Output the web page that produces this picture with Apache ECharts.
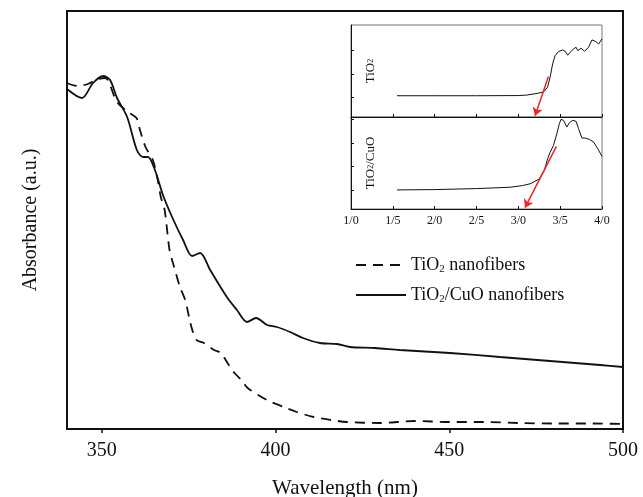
<!DOCTYPE html>
<html><head><meta charset="utf-8">
<script src="https://cdn.jsdelivr.net/npm/echarts@6/dist/echarts.min.js"></script>
<style>html,body{margin:0;padding:0;background:#fff}#c{width:643px;height:497px}</style>
</head><body><div id="c"></div>
<script>
// ---- main chart data ----
const xTicks = [350, 400, 450, 500];
const solidX = [340.0,344.3,347.5,350.4,352.4,354.4,357.3,360.1,361.9,363.3,365.3,367.6,370.5,373.4,376.0,378.3,381.2,386.0,388.9,391.8,394.4,397.6,400.4,404.2,407.9,412.8,417.7,421.4,428.6,435.8,450.2,464.6,479.0,493.4,500];
const solidY = [3.40,3.31,3.46,3.53,3.49,3.31,3.12,2.79,2.72,2.72,2.59,2.34,2.10,1.89,1.73,1.76,1.59,1.32,1.19,1.07,1.11,1.04,1.02,0.97,0.91,0.86,0.85,0.82,0.81,0.79,0.76,0.72,0.68,0.64,0.62];
const dashX = [340,343,346,349,351,354.4,358,360,361,362.6,364.7,366,367,368.1,369.5,370.5,372.5,374,375.8,377.3,379.4,382.3,384.3,386.2,388.2,390.2,392,397.5,402.4,406.1,411,416,420.6,430,440,450,460,470,480,490,500];
const dashY = [3.46,3.43,3.45,3.50,3.51,3.27,3.16,3.11,2.99,2.82,2.69,2.51,2.32,2.19,1.79,1.66,1.42,1.29,1.02,0.89,0.86,0.79,0.76,0.66,0.56,0.49,0.41,0.29,0.22,0.17,0.12,0.09,0.07,0.06,0.08,0.07,0.07,0.06,0.055,0.055,0.05];
const seriesNames = ['TiO2 nanofibers', 'TiO2/CuO nanofibers'];

// ---- inset data ----
const insetTickLabels = ['1/0','1/5','2/0','2/5','3/0','3/5','4/0'];
const insetTopX = [1.55,2.0,2.5,3.0,3.1,3.2,3.3,3.35,3.38,3.41,3.44,3.48,3.53,3.56,3.59,3.62,3.66,3.69,3.71,3.75,3.79,3.84,3.88,3.92,3.96,3.98,4.0];
const insetTopY = [64,64,64,64.5,66,70,75,90,120,160,185,197,202,198,186,195,205,210,200,207,198,210,232,228,220,225,235];
const insetTopTicks = [60,130,202];
const insetBotX = [1.55,2.0,2.5,2.9,3.05,3.15,3.25,3.31,3.35,3.38,3.42,3.46,3.49,3.51,3.54,3.58,3.61,3.65,3.69,3.72,3.76,3.8,3.85,3.9,3.95,4.0];
const insetBotY = [57,58,61,65,70,76,90,115,150,170,190,225,255,268,265,245,258,265,262,240,212,212,208,200,180,157];
const insetBotTicks = [57,127,197,267];
const arrowTop = [[3.36,122],[3.2,4]];
const arrowBot = [[3.455,187],[3.08,4]];

const zip = (a, b) => a.map((v, i) => [v, b[i]]);
const F = 'Liberation Serif';
const sub = { fontSize: 11, fontFamily: F, color: '#111', padding: [9, 0, 0, 0] };
const subS = { fontSize: 8, fontFamily: F, color: '#111', padding: [0, 0, 0, 0] };

const chart = echarts.init(document.getElementById('c'));
const arrowStyle = { color: '#e8262b', width: 1.5, type: 'solid' };
chart.setOption({
  animation: false,
  legend: {
    left: 350, top: 251, orient: 'vertical', itemWidth: 50, itemHeight: 14, itemGap: 11,
    data: seriesNames,
    itemStyle: { opacity: 0 },
    formatter: n => n.replace('TiO2', 'TiO{s|2}'),
    textStyle: { fontFamily: F, fontSize: 18, color: '#111', rich: { s: sub } }
  },
  grid: [
    { left: 67, top: 11, right: 20, bottom: 68, show: true, borderColor: '#111', borderWidth: 2, outerBoundsMode: 'none', containLabel: false },
    { left: 351, top: 25, right: 41, height: 92, show: true, borderColor: '#777', borderWidth: 1, backgroundColor: '#fff', outerBoundsMode: 'none', containLabel: false },
    { left: 351, top: 117, right: 41, height: 92, show: true, borderColor: '#777', borderWidth: 1, backgroundColor: '#fff', outerBoundsMode: 'none', containLabel: false }
  ],
  xAxis: [
    { gridIndex: 0, type: 'value', min: 340, max: 500,
      name: 'Wavelength (nm)', nameLocation: 'middle', nameGap: 49,
      nameTextStyle: { fontFamily: F, fontSize: 21, color: '#111' },
      axisLine: { show: true, lineStyle: { color: '#111', width: 2 } },
      axisTick: { show: true, customValues: xTicks, length: 4, lineStyle: { color: '#111', width: 1.5 } },
      axisLabel: { customValues: xTicks, margin: 12, fontFamily: F, fontSize: 20, color: '#111' },
      splitLine: { show: false } },
    { gridIndex: 1, type: 'value', min: 1, max: 4, interval: 0.5,
      axisLine: { show: true, lineStyle: { color: '#111', width: 1 } },
      axisTick: { show: true, length: 3, inside: true, lineStyle: { color: '#111' } },
      axisLabel: { show: false }, splitLine: { show: false } },
    { gridIndex: 2, type: 'value', min: 1, max: 4, interval: 0.5,
      axisLine: { show: true, lineStyle: { color: '#111', width: 1 } },
      axisTick: { show: true, length: 3, inside: true, lineStyle: { color: '#111' } },
      axisLabel: { margin: 6, fontFamily: F, fontSize: 12, color: '#111',
        formatter: v => insetTickLabels[Math.round((v - 1) / 0.5)] },
      splitLine: { show: false } }
  ],
  yAxis: [
    { gridIndex: 0, type: 'value', min: 0, max: 4.18,
      name: 'Absorbance (a.u.)', nameLocation: 'middle', nameGap: 26,
      nameTextStyle: { fontFamily: F, fontSize: 20, color: '#111' },
      axisLine: { show: true, lineStyle: { color: '#111', width: 2 } },
      axisTick: { show: false }, axisLabel: { show: false }, splitLine: { show: false } },
    { gridIndex: 1, type: 'value', min: 0, max: 277,
      name: 'TiO{s|2}', nameLocation: 'middle', nameGap: -26,
      nameTextStyle: { fontFamily: F, fontSize: 13, color: '#111', rich: { s: subS } },
      axisLine: { show: true, lineStyle: { color: '#111', width: 1 } },
      axisTick: { show: true, customValues: insetTopTicks, length: 3, inside: true, lineStyle: { color: '#111' } },
      axisLabel: { show: false }, splitLine: { show: false } },
    { gridIndex: 2, type: 'value', min: 0, max: 275,
      name: 'TiO{s|2}/CuO', nameLocation: 'middle', nameGap: -26,
      nameTextStyle: { fontFamily: F, fontSize: 13, color: '#111', rich: { s: subS } },
      axisLine: { show: true, lineStyle: { color: '#111', width: 1 } },
      axisTick: { show: true, customValues: insetBotTicks, length: 3, inside: true, lineStyle: { color: '#111' } },
      axisLabel: { show: false }, splitLine: { show: false } }
  ],
  series: [
    { name: seriesNames[0], type: 'line', xAxisIndex: 0, yAxisIndex: 0, data: zip(dashX, dashY),
      smooth: 0.3, symbol: 'none', lineStyle: { color: '#111', width: 1.8, type: [10, 7] }, itemStyle: { color: '#111' } },
    { name: seriesNames[1], type: 'line', xAxisIndex: 0, yAxisIndex: 0, data: zip(solidX, solidY),
      smooth: 0.3, symbol: 'none', lineStyle: { color: '#111', width: 1.8 }, itemStyle: { color: '#111' } },
    { name: 'insetTop', type: 'line', xAxisIndex: 1, yAxisIndex: 1, data: zip(insetTopX, insetTopY),
      symbol: 'none', lineStyle: { color: '#111', width: 1 },
      markLine: { silent: true, symbol: ['none', 'arrow'], symbolSize: 8, lineStyle: arrowStyle, label: { show: false },
        data: [[{ coord: arrowTop[0] }, { coord: arrowTop[1] }]] } },
    { name: 'insetBot', type: 'line', xAxisIndex: 2, yAxisIndex: 2, data: zip(insetBotX, insetBotY),
      symbol: 'none', lineStyle: { color: '#111', width: 1 },
      markLine: { silent: true, symbol: ['none', 'arrow'], symbolSize: 8, lineStyle: arrowStyle, label: { show: false },
        data: [[{ coord: arrowBot[0] }, { coord: arrowBot[1] }]] } }
  ]
});
</script>
</body></html>
